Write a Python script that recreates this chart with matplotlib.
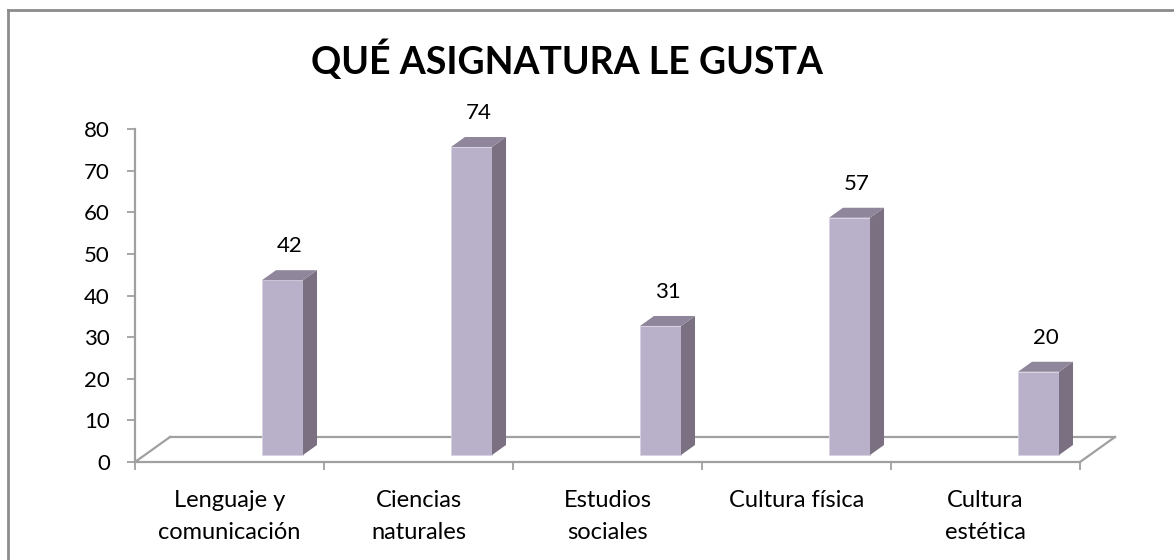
import matplotlib.pyplot as plt
from matplotlib.patches import Polygon
from matplotlib.lines import Line2D
import numpy as np

# --- Données --- #
categorias = ["Lenguaje y\ncomunicación", "Ciencias\nnaturales", "Estudios\nsociales",
              "Cultura física", "Cultura\nestética"]
valores = [42, 74, 31, 57, 20]
titulo = "QUÉ ASIGNATURA LE GUSTA"
yticks = [0, 10, 20, 30, 40, 50, 60, 70, 80]

plt.rcParams['font.family'] = ['Lato', 'DejaVu Sans']

# couleurs
c_front = "#B9B0CA"
c_side = "#7A7082"
c_top = "#8F869B"
c_line = "#A0A0A0"

W, H = 1174, 560
fig = plt.figure(figsize=(W / 100, H / 100), dpi=100)
ax = fig.add_axes([135 / W, (H - 462) / H, 945 / W, 333 / H])
ax.set_xlim(0, len(categorias))
ax.set_ylim(0, 80)

# effet 3D (décalages en unités de données)
bar_off = 0.672       # décalage de la face avant dans la catégorie
bar_w = 0.217
base = 1.68           # base surélevée des barres
dx, dy = 0.074, 2.4   # profondeur des barres
fdx, fdy = 0.185, 6.0  # profondeur du plancher

n = len(categorias)
x = np.arange(n)

# plancher
lw_floor = 1.6
ax.add_line(Line2D([0, fdx], [0, fdy], color=c_line, lw=lw_floor, clip_on=False))
ax.add_line(Line2D([fdx, n + fdx], [fdy, fdy], color=c_line, lw=lw_floor, clip_on=False))
ax.add_line(Line2D([n, n + fdx], [0, fdy], color=c_line, lw=lw_floor, clip_on=False))

# barres
ax.bar(x + bar_off, valores, width=bar_w, bottom=base, align="edge",
       color=c_front, edgecolor="#D8D2E2", linewidth=0.6, zorder=3)
for xi, v in zip(x, valores):
    x0 = xi + bar_off
    x1 = x0 + bar_w
    top = base + v
    side = Polygon([(x1, base), (x1 + dx, base + dy), (x1 + dx, top + dy), (x1, top)],
                   closed=True, facecolor=c_side, edgecolor="none", zorder=3, clip_on=False)
    lid = Polygon([(x0, top), (x0 + dx, top + dy), (x1 + dx, top + dy), (x1, top)],
                  closed=True, facecolor=c_top, edgecolor="none", zorder=3, clip_on=False)
    ax.add_patch(side)
    ax.add_patch(lid)
    ax.text(x0 + bar_w / 2 + dx / 2, top + dy + 3.3, str(v), ha="center", va="bottom",
            fontsize=16, color="black")

# axes
for s in ["top", "right"]:
    ax.spines[s].set_visible(False)
for s in ["left", "bottom"]:
    ax.spines[s].set_color(c_line)
    ax.spines[s].set_linewidth(lw_floor)

ax.set_yticks(yticks)
ax.set_yticklabels([str(t) for t in yticks], fontsize=16)
ax.tick_params(axis="y", length=6, width=1.3, color=c_line, pad=12)

ax.set_xticks(np.arange(n + 1))
ax.set_xticklabels([])
ax.set_xticks(x + 0.5, minor=True)
ax.set_xticklabels(categorias, minor=True, fontsize=17, linespacing=1.65)
ax.tick_params(axis="x", which="major", length=6, width=1.3, color=c_line)
ax.tick_params(axis="x", which="minor", length=0, pad=20)

fig.text(567 / W, 1 - 60 / H, titulo, ha="center", va="center",
         fontsize=27, fontweight="bold")

# bordure
fig.add_artist(Line2D([8 / W, 8 / W], [0, 1 - 10 / H], color="#8C8C8C", lw=2,
                      transform=fig.transFigure))
fig.add_artist(Line2D([8 / W, 1], [1 - 10 / H, 1 - 10 / H], color="#8C8C8C", lw=2,
                      transform=fig.transFigure))

fig.savefig("out.png", dpi=100, facecolor="white")
